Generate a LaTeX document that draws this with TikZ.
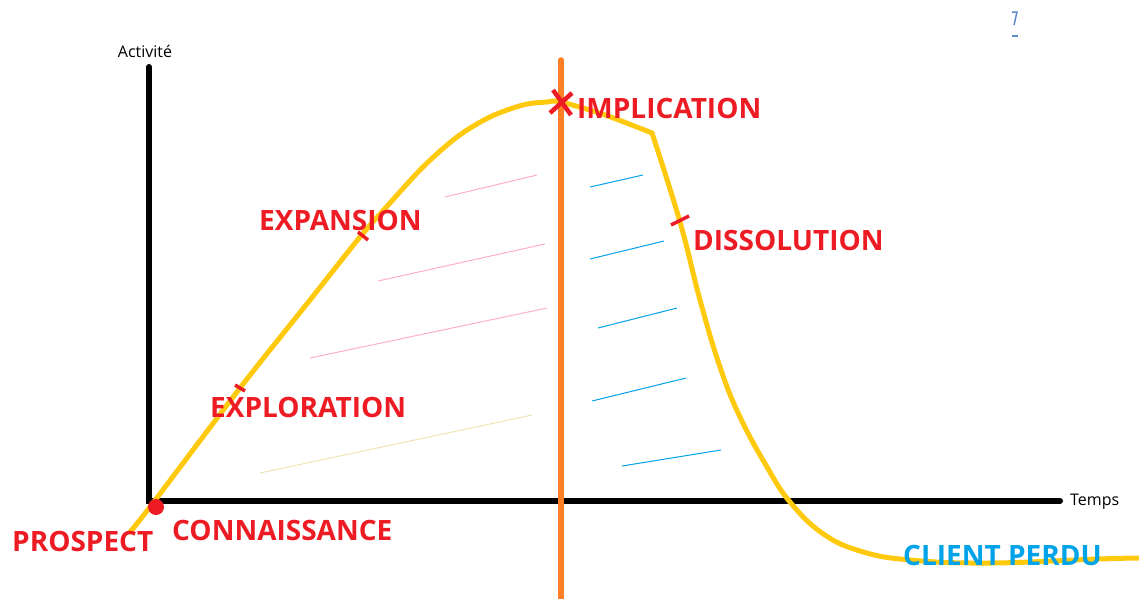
\documentclass[tikz,border=0pt]{standalone}
\usepackage{fontspec}
\setmainfont{Open Sans}
\usetikzlibrary{positioning, calc}
\definecolor{phasered}{RGB}{237, 28, 36}
\definecolor{curvegold}{RGB}{255, 201, 14}
\definecolor{splitorange}{RGB}{255, 127, 39}
\definecolor{lostblue}{RGB}{0, 162, 232}
\definecolor{hatchpink}{RGB}{255, 174, 201}
\definecolor{hatchtan}{RGB}{239, 228, 176}
\definecolor{markblue}{RGB}{91, 139, 200}

\begin{document}
\begin{tikzpicture}[
    x=1pt, y=-1pt,
    phase/.style={text=phasered, font=\fontsize{28}{30}\selectfont\bfseries, inner sep=0, anchor=west},
    axislabel/.style={font=\fontsize{16}{18}\selectfont, inner sep=0},
    axis/.style={line width=6pt, line cap=round},
    curve/.style={curvegold, line width=5pt, line cap=round, line join=round},
    tick/.style={phasered, line width=3.5pt},
    hatch/.style={line width=1pt}
]
\useasboundingbox (0,0) rectangle (1139,598);

\coordinate (origin) at (149,501);
\coordinate (ytop) at (149,67);
\coordinate (xend) at (1060,501);
\coordinate (splittop) at (561,60);
\coordinate (splitbot) at (561,598);
\coordinate (peak) at (561,103);

% hatching
\draw[hatch, hatchpink] (445,197) -- (537,175);
\draw[hatch, hatchpink] (378,281) -- (545,244);
\draw[hatch, hatchpink] (310,358) -- (547,308);
\draw[hatch, hatchtan] (260,473) -- (532,415);
\draw[hatch, lostblue] (590,187) -- (643,175);
\draw[hatch, lostblue] (590,259) -- (664,241);
\draw[hatch, lostblue] (598,328) -- (677,308);
\draw[hatch, lostblue] (592,401) -- (686,378);
\draw[hatch, lostblue] (622,466) -- (721,450);

\draw[axis] (ytop) -- (origin) -- (xend);
\node[axislabel, above=9pt of ytop, xshift=-4pt] (activite) {Activité};
\node[axislabel, right=10pt of xend, anchor=base west, yshift=-4pt] (temps) {Temps};

\draw[curve] plot[smooth, tension=0.55] coordinates {(130,532) (153,503) (240,388) (310,300) (360,237) (390,203) (423,167) (457,137) (490,117) (523,105) (547,102) (561,102) (605,115) (652,133)};
\draw[curve] plot[smooth, tension=0.7] coordinates {(652,133) (680,222) (700,300) (720,367) (740,417) (767,467) (790,502) (822,533) (860,551) (910,560) (990,563) (1098,559) (1139,558)};

\draw[splitorange, line width=5.5pt, line cap=round] (splittop) -- (splitbot);

\coordinate (texplo) at (240,388);
\coordinate (texpan) at (363,236);
\coordinate (tdisso) at (680,221);
\draw[tick] ($(texplo)+(-5,-3)$) -- ($(texplo)+(5,3)$);
\draw[tick] ($(texpan)+(-5,-4)$) -- ($(texpan)+(5,4)$);
\draw[tick] ($(tdisso)+(-9,4)$) -- ($(tdisso)+(9,-5)$);
\draw[tick, line width=4.5pt] ($(peak)+(-11,10)$) -- ($(peak)+(11,-10)$);
\draw[tick, line width=4.5pt] ($(peak)+(-8,-13)$) -- ($(peak)+(10,12)$);
\node[circle, fill=phasered, inner sep=0, minimum size=16pt] (dot) at (156,507) {};

\node[phase] (prospect) at (12,541) {PROSPECT};
\node[phase] (connaissance) at (172,530) {CONNAISSANCE};
\node[phase] (exploration) at (210,407) {EXPLORATION};
\node[phase] (expansion) at (259,220) {EXPANSION};
\node[phase] (implication) at (577,108) {IMPLICATION};
\node[phase] (dissolution) at (693,240) {DISSOLUTION};
\node[phase, text=lostblue] (perdu) at (903,555) {CLIENT PERDU};

\draw[markblue, line width=1.5pt] (1012,12) -- (1017,12) -- (1014,25);
\draw[markblue, line width=1.5pt] (1012,36) -- (1018,36);

\end{tikzpicture}
\end{document}
